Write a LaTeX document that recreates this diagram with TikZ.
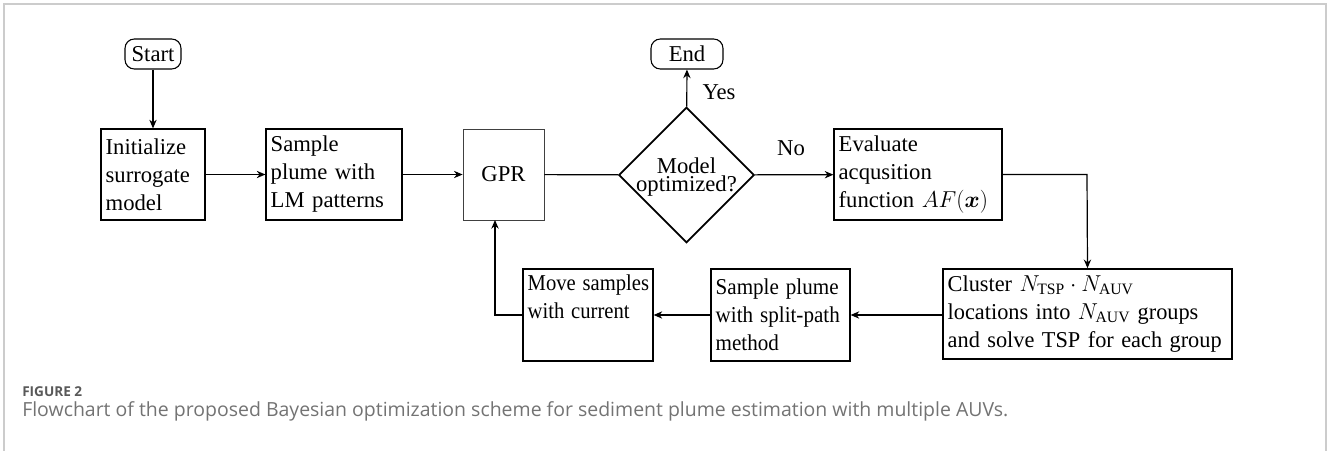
\documentclass[tikz,border=0pt]{standalone}
\usepackage{amsmath}
\usepackage{graphicx}
\usepackage{fontspec}
\setmainfont{Liberation Serif}
\newfontfamily\capfont{Open Sans}
\usetikzlibrary{shapes.geometric,arrows.meta}

% one unbreakable line of box text, optionally set a little narrower
\newcommand\bline[2][1]{\mbox{\scalebox{#1}[1]{#2}}}

\tikzset{
  flowbox/.style={draw, line width=0.9pt, inner xsep=3.5pt, inner ysep=4pt,
    align=left, minimum height=68.25pt, font={\fontsize{17}{21}\selectfont}},
  termbox/.style={draw, line width=0.8pt, rounded corners=7pt, inner sep=0pt,
    minimum height=22.5pt, font={\fontsize{17}{21}\selectfont}},
  decide/.style={draw, diamond, aspect=1, line width=1.3pt, inner sep=0pt,
    minimum size=101.5pt},
  decidetext/.style={align=center, inner sep=0pt, font={\fontsize{17}{13}\selectfont}},
  flow/.style={line width=0.9pt, -{Stealth[length=6.5pt,width=5.5pt]}},
  plain/.style={line width=0.9pt},
  lbl/.style={font={\fontsize{17}{21}\selectfont}},
  frameline/.style={draw=black!20, line width=0.8pt}
}

\begin{document}
\begin{tikzpicture}[x=0.75pt, y=-0.75pt]
  \useasboundingbox (0,0) rectangle (1328,450);
  % outer frame
  \draw[frameline] (4,460) -- (4,4) -- (1326,4) -- (1326,460);

  % terminals
  \node[termbox, minimum width=42pt] (start) at (153,54) {Start};
  \node[termbox, minimum width=54pt] (stop) at (687,54) {End};

  % top row
  \node[flowbox, minimum width=78pt, text width=71pt] (init) at (153,174.5)
    {\bline{Initialize}\\\bline{surrogate}\\\bline{model}};
  \node[flowbox, minimum width=102pt, text width=95pt] (lm) at (334,174.5)
    {\bline{Sample}\\\bline{plume with}\\\bline{LM patterns}};
  \node[flowbox, draw=black!75, line width=0.6pt, align=center,
        minimum width=60.75pt, text width=53.75pt] (gpr) at (503.5,174.5) {GPR};
  \node[decide] (opt) at (686.5,175) {};
  \node[decidetext] (optq) at (686.5,177) {Model\\optimized?};
  \node[flowbox, minimum width=126pt, text width=119pt] (eval) at (918,174.5)
    {\bline{Evaluate}\\\bline{acqusition}\\\bline{function $AF(\boldsymbol{x})$}};

  % bottom row
  \node[flowbox, line width=1.2pt, minimum width=216.75pt, text width=209.75pt,
        minimum height=67.5pt] (clus) at (1087.5,314)
    {\bline[0.985]{Cluster $N_{\mathrm{TSP}}\cdot N_{\mathrm{AUV}}$}\\
     \bline[0.985]{locations into $N_{\mathrm{AUV}}$ groups}\\
     \bline[0.985]{and solve TSP for each group}};
  \node[flowbox, minimum width=104.25pt, text width=97.25pt,
        minimum height=69pt] (split) at (780.5,315)
    {\bline[0.93]{Sample plume}\\\bline[0.93]{with split-path}\\\bline[0.93]{method}};
  \node[flowbox, minimum width=97.5pt, text width=90.5pt,
        minimum height=69pt] (move) at (588,315)
    {\bline[0.91]{Move samples}\\\bline[0.91]{with current}\\\strut};

  \coordinate (gprin) at (495,220);
  \coordinate (evalturn) at (1087,174.5);

  % connectors
  \draw[flow] (start) -- (init);
  \draw[flow] (init) -- (lm);
  \draw[flow] (lm) -- (gpr);
  \draw[plain] (gpr) -- (opt);
  \draw[flow] (opt) -- (eval);
  \draw[flow] (opt) -- (stop);
  \draw[flow] (eval.east) -- (evalturn) -- (clus.north);
  \draw[flow] (clus.west |- split.east) -- (split.east);
  \draw[flow] (split) -- (move);
  \draw[flow] (move.west) -| (gprin);

  % branch labels
  \node[lbl] (yes) at (719,92) {Yes};
  \node[lbl] (no) at (791,148) {No};

  % caption
  \node[anchor=base west, inner sep=0pt, text=black!65,
        font={\capfont\bfseries\fontsize{10.2}{12}\selectfont}] (fig) at (22,396) {FIGURE 2};
  \node[anchor=base west, inner sep=0pt, text=black!55,
        font={\capfont\fontsize{14.6}{17}\selectfont}] (cap) at (22,416)
    {Flowchart of the proposed Bayesian optimization scheme for sediment plume estimation with multiple AUVs.};
\end{tikzpicture}
\end{document}
